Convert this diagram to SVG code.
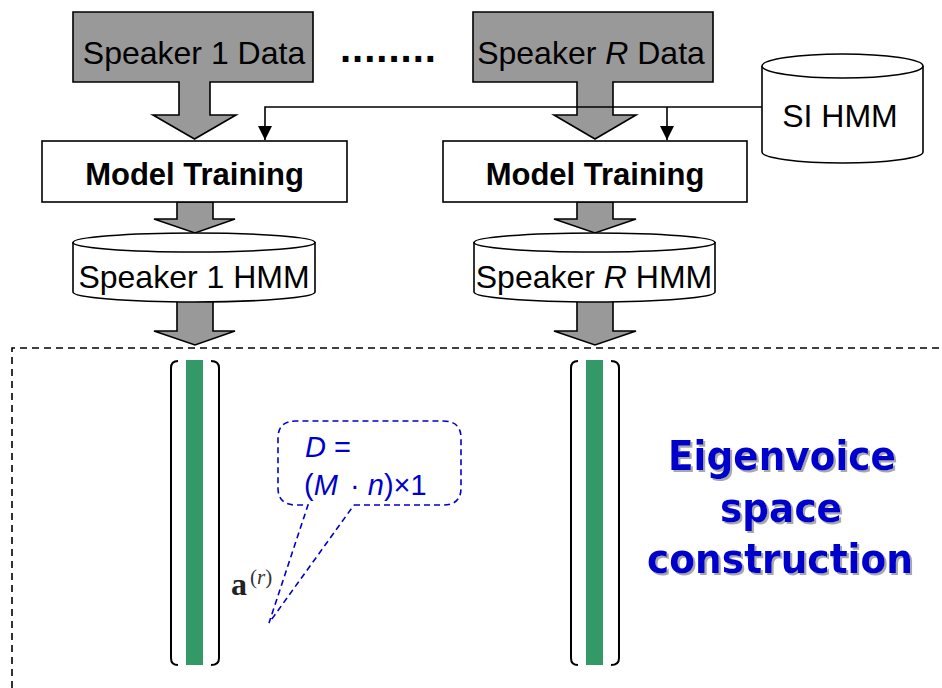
<svg xmlns="http://www.w3.org/2000/svg" width="942" height="688" viewBox="0 0 942 688">
<style>
.bigarrow{fill:#999999;stroke:#000;stroke-width:1.6;stroke-linejoin:miter}
.box{fill:#fff;stroke:#000;stroke-width:1.6}
.lbl{font-family:"Liberation Sans",Arial,sans-serif;font-size:32px;fill:#000;text-anchor:middle}
.bold{font-weight:bold;font-size:31px}
.conn{fill:none;stroke:#000;stroke-width:1.6}
.green{fill:#339966}
.brk{fill:none;stroke:#000;stroke-width:2}
.blue{fill:#0000cc}
.ev{font-family:"DejaVu Sans",Tahoma,Verdana,sans-serif;font-weight:bold;font-size:41px;text-anchor:middle;fill:#0000cc}
.call{fill:none;stroke:#0000cc;stroke-width:1.6;stroke-dasharray:6 4}
</style>
<defs>
<marker id="ah" markerUnits="userSpaceOnUse" markerWidth="16" markerHeight="14" refX="14" refY="7" orient="auto" viewBox="0 0 16 14">
<path d="M0,0 L14,7 L0,14 Z" fill="#000"/>
</marker>
<filter id="shadow" x="-5%" y="-10%" width="115%" height="130%">
<feDropShadow dx="2" dy="2" stdDeviation="0.6" flood-color="#a8a8a8" flood-opacity="1"/>
</filter>
</defs>
<rect width="942" height="688" fill="#fff"/>

<g id="speaker1-data">
<path class="bigarrow" d="M73,12 H313 V82 H210 V115 H236 L194.5,139 L153,115 H179 V82 H73 Z"/>
<text class="lbl" x="194" y="64">Speaker 1 Data</text>
</g>

<g id="dots">
<text x="340" y="62" font-family="Liberation Sans,Arial,sans-serif" font-weight="bold" font-size="40" letter-spacing="1">........</text>
</g>

<g id="speakerR-data">
<path class="bigarrow" d="M473,12 H713 V82 H613 V115 H636 L595,139 L554,115 H577 V82 H473 Z"/>
<text class="lbl" x="591" y="64">Speaker <tspan font-style="italic">R</tspan> Data</text>
</g>

<g id="si-hmm">
<path class="box" d="M762,66 V152 A80.5,11 0 0 0 923,152 V66"/>
<ellipse class="box" cx="842.5" cy="66" rx="80.5" ry="12"/>
<text class="lbl" x="840" y="127" font-size="33">SI HMM</text>
</g>

<g id="arrow-mt1-hmm1">
<path class="bigarrow" d="M177,202 H213 V219 H235 L195,233 L154,219 H177 Z"/>
</g>
<g id="arrow-mt2-hmm2">
<path class="bigarrow" d="M577,202 H613 V219 H636 L595,233 L554,219 H577 Z"/>
</g>
<g id="arrow-hmm1-space">
<path class="bigarrow" d="M177,296 H213 V331 H235 L195,345 L154,331 H177 Z"/>
</g>
<g id="arrow-hmm2-space">
<path class="bigarrow" d="M577,296 H613 V331 H636 L595,345 L554,331 H577 Z"/>
</g>

<g id="model-training-1">
<rect class="box" x="42" y="141" width="305" height="61"/>
<text class="lbl bold" x="194.5" y="185">Model Training</text>
</g>
<g id="model-training-2">
<rect class="box" x="443" y="141" width="304" height="61"/>
<text class="lbl bold" x="595" y="185">Model Training</text>
</g>

<g id="speaker1-hmm">
<path class="box" d="M73,242 V292 A121,10 0 0 0 315,292 V242"/>
<ellipse class="box" cx="194" cy="242.5" rx="121" ry="9.5"/>
<text class="lbl" x="194" y="288">Speaker 1 HMM</text>
</g>
<g id="speakerR-hmm">
<path class="box" d="M474,242 V292 A120.5,10 0 0 0 715,292 V242"/>
<ellipse class="box" cx="594.5" cy="242.5" rx="120.5" ry="9.5"/>
<text class="lbl" x="594" y="288">Speaker <tspan font-style="italic">R</tspan> HMM</text>
</g>

<g id="connectors">
<path class="conn" d="M762,107 H265 V140" marker-end="url(#ah)"/>
<path class="conn" d="M667,107 V140" marker-end="url(#ah)"/>
</g>

<g id="eigenvoice-region">
<path d="M12,688 V348 H942" fill="none" stroke="#000" stroke-width="1.6" stroke-dasharray="7 5"/>
</g>

<g id="vector-1">
<rect class="green" x="186" y="360" width="17" height="305"/>
<path class="brk" d="M178,361 Q171,361 171,368 V658 Q171,665 178,665"/>
<path class="brk" d="M211,361 Q219,361 219,368 V658 Q219,665 211,665"/>
</g>
<g id="vector-R">
<rect class="green" x="586" y="360" width="17" height="305"/>
<path class="brk" d="M578,361 Q571,361 571,368 V658 Q571,665 578,665"/>
<path class="brk" d="M611,361 Q619,361 619,368 V658 Q619,665 611,665"/>
</g>

<g id="a-label">
<text x="231" y="595" font-family="Liberation Serif,Times New Roman,serif" font-weight="bold" font-size="32" fill="#222">a</text>
<text x="250" y="584" font-family="Liberation Serif,Times New Roman,serif" font-size="21" fill="#333">(<tspan font-style="italic">r</tspan>)</text>
</g>

<g id="callout">
<path class="call" d="M354,505 H443 Q461,505 461,488 V438 Q461,421 443,421 H296 Q278,421 278,438 V488 Q278,505 296,505 H308 L269,623 L354,505"/>
<text x="305" y="457" font-family="Liberation Sans,Arial,sans-serif" font-size="29" class="blue"><tspan font-style="italic">D</tspan> =</text>
<text x="304" y="495" font-family="Liberation Sans,Arial,sans-serif" font-size="29" class="blue">(<tspan font-style="italic">M</tspan><tspan x="350">·</tspan> <tspan font-style="italic">n</tspan>)×1</text>
</g>

<g id="eigenvoice-title" filter="url(#shadow)">
<text class="ev" x="782" y="470" textLength="228" lengthAdjust="spacingAndGlyphs">Eigenvoice</text>
<text class="ev" x="781" y="522" textLength="122" lengthAdjust="spacingAndGlyphs">space</text>
<text class="ev" x="780" y="573" textLength="266" lengthAdjust="spacingAndGlyphs">construction</text>
</g>
</svg>
